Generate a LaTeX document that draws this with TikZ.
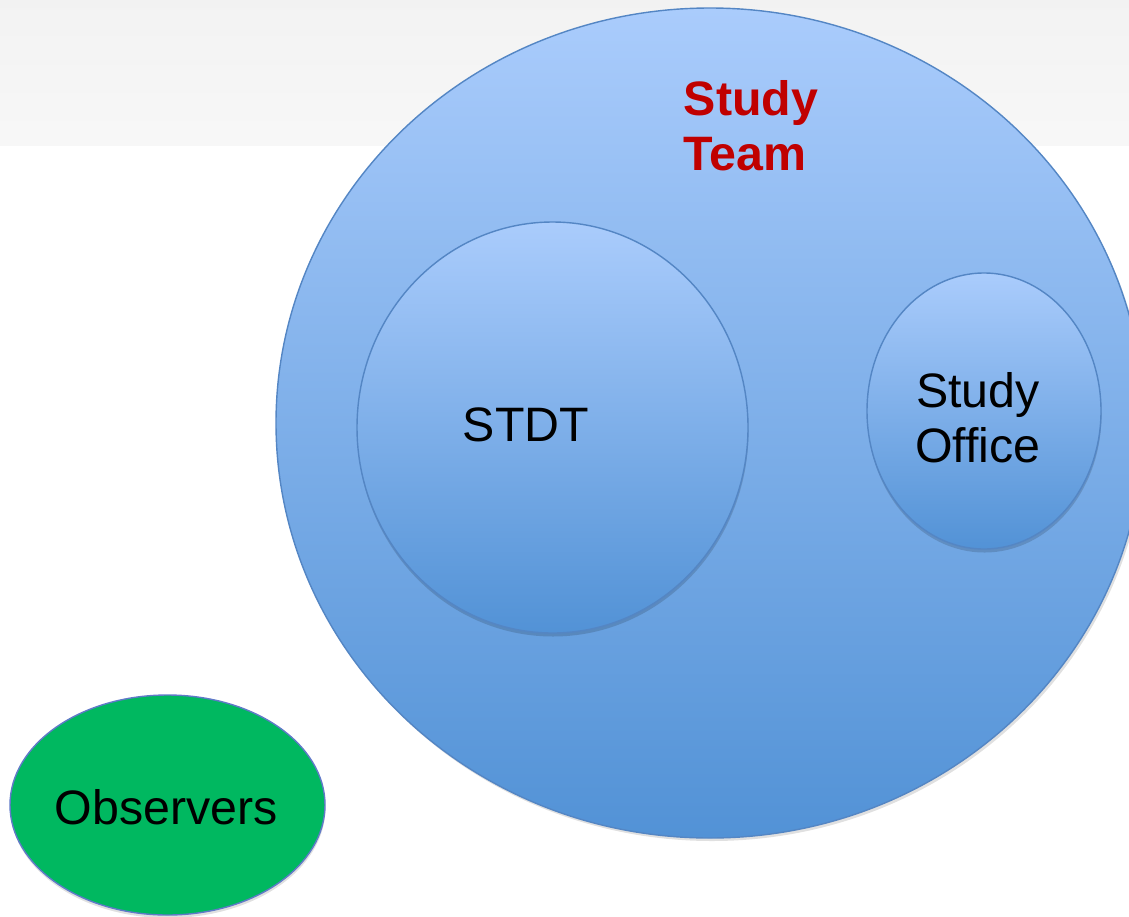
\documentclass[tikz,border=0pt]{standalone}
\usepackage{fontspec}
\setmainfont{Liberation Sans}
\usepackage{tikz}
\definecolor{bluetop}{RGB}{170,204,252}
\definecolor{bluebot}{RGB}{82,146,214}
\definecolor{blueline}{RGB}{84,134,196}
\definecolor{teamred}{RGB}{192,0,0}
\definecolor{obsgreen}{RGB}{0,184,96}
\definecolor{obsline}{RGB}{96,122,200}
\begin{document}
\begin{tikzpicture}[scale=0.2]
\tikzstyle{every node}+=[inner sep=0pt]
\tikzstyle{bubble}=[top color=bluetop, bottom color=bluebot, draw=blueline, line width=0.8pt]
\tikzstyle{label}=[font=\fontsize{27.5}{31.3}\selectfont, align=center]
\useasboundingbox (0,0) rectangle (112.9,-91.6);
\shade [top color=black!5, bottom color=black!3] (0,0) rectangle (112.9,-14.5);
\fill [black,opacity=0.12] (71.2,-42.6) ellipse (43.4 and 41.5);
\shade [bubble] (71,-42.3) ellipse (43.4 and 41.5);
\fill [black,opacity=0.15] (55.3,-43.1) ellipse (19.55 and 20.55);
\shade [bubble] (55.25,-42.75) ellipse (19.55 and 20.55);
\fill [black,opacity=0.15] (98.45,-41.45) ellipse (11.7 and 13.8);
\shade [bubble] (98.4,-41.1) ellipse (11.7 and 13.8);
\fill [black,opacity=0.12] (16.8,-80.8) ellipse (15.75 and 11);
\draw [fill=obsgreen, draw=obsline, line width=0.8pt] (16.75,-80.5) ellipse (15.75 and 11);
\node (team) [label, font=\fontsize{27.5}{31.3}\selectfont\bfseries, text=teamred, align=left] at (75.1,-12.6) {Study\\Team};
\node (stdt) [label] at (52.6,-42.5) {STDT};
\node (office) [label] at (97.8,-41.75) {Study\\Office};
\node (obs) [label] at (16.6,-80.7) {Observers};
\end{tikzpicture}
\end{document}
